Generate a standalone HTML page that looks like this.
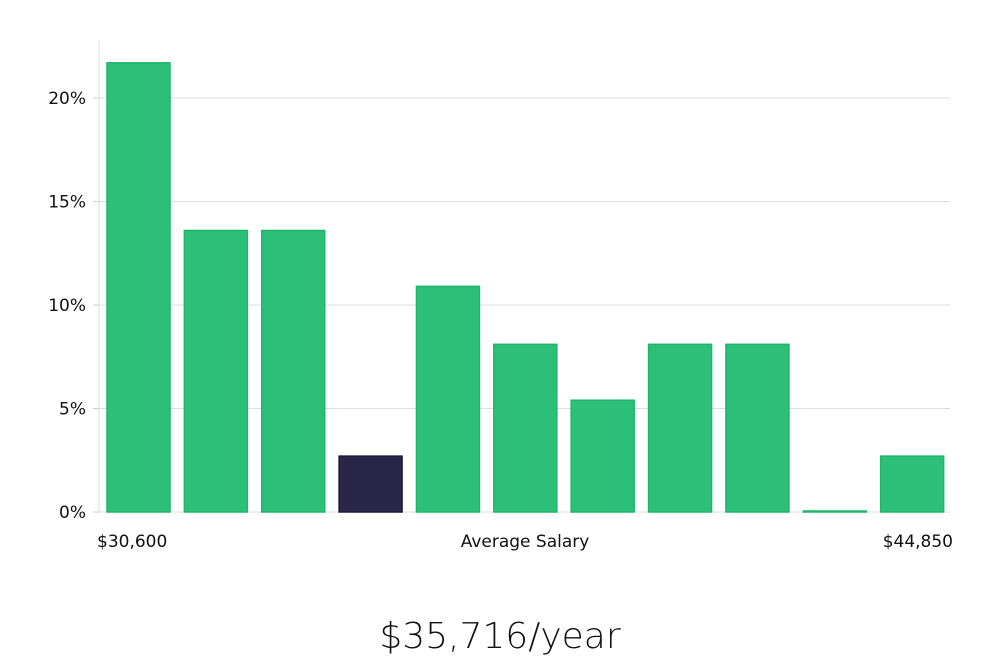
<!DOCTYPE html>
<html><head><meta charset="utf-8"><style>
html,body{margin:0;padding:0;background:#fff;}
body{width:1000px;height:660px;overflow:hidden;font-family:"DejaVu Sans","Liberation Sans",sans-serif;}
</style></head><body>
<svg id="chart" width="1000" height="660" xmlns="http://www.w3.org/2000/svg"></svg>
<script>
const categories = ["b1","b2","b3","b4","b5","b6","b7","b8","b9","b10","b11"];
const values = [21.7,13.6,13.6,2.7,10.9,8.1,5.4,8.1,8.1,0,2.7];
const highlightIndex = 3;
const yTicks = [0,5,10,15,20];
const yTickLabels = ["0%","5%","10%","15%","20%"];
const xLabels = ["$30,600","Average Salary","$44,850"];
const titleText = "$35,716/year";

const svg = document.getElementById('chart');
const NS = 'http://www.w3.org/2000/svg';
const left = 99, right = 950, y0 = 512, yTop = 40;
const pxPer = (512-98)/20;
function y(v){ return y0 - v*pxPer; }
const slot = (right-left)/categories.length;
function xs(i){ return left + i*slot + 8; }
const bw = 63;
function mk(tag, attrs){ const e=document.createElementNS(NS,tag); for(const k in attrs) e.setAttribute(k,attrs[k]); svg.appendChild(e); return e; }

yTicks.forEach((t,i)=>{
  if(t>0){
    const g = mk('line',{x1:left,x2:right,y1:y(t),y2:y(t),stroke:'#dddddd','stroke-width':1});
    
    
  }
  const tk = mk('line',{x1:left-6,x2:left,y1:y(t),y2:y(t),stroke:'#cccccc','stroke-width':1});
  
  
  const tx = mk('text',{x:left-13,y:y(t)+6,'text-anchor':'end','font-size':17,fill:'#111'});
  tx.textContent = yTickLabels[i];
  
  
});
const ax = mk('line',{x1:left,x2:left,y1:yTop,y2:y0,stroke:'#dddddd','stroke-width':1});


const bx = mk('line',{x1:left,x2:right,y1:y0,y2:y0,stroke:'#dddddd','stroke-width':1});



values.forEach((v,i)=>{
  const hl = i===highlightIndex;
  const h = Math.max(v*pxPer,1);
  const r = mk('rect',{x:xs(i),y:y0-h,width:bw,height:h,fill:hl?'#2a2649':'#2bbf77',stroke:hl?'#1e1a3d':'#1fb56c','stroke-width':1.5});
  
  
});

const xl = [[97,'start'],[525,'middle'],[953,'end']];
xLabels.forEach((s,i)=>{
  const t = mk('text',{x:xl[i][0],y:547,'text-anchor':xl[i][1],'font-size':17,fill:'#111'});
  t.textContent = s;
  
  
});
const tt = mk('text',{x:500,y:648,'text-anchor':'middle','font-size':36,fill:'#111','font-weight':300});
tt.textContent = titleText;


</script>
</body></html>
